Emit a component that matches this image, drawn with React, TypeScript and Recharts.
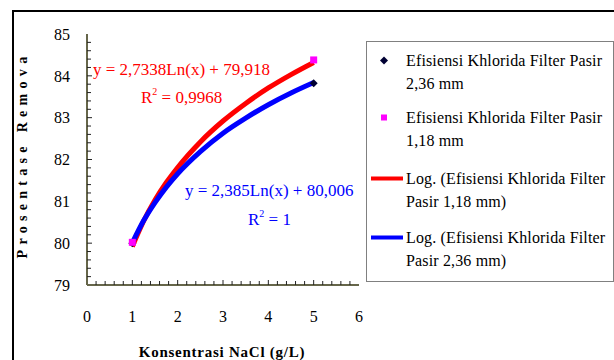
import React from 'react';
import { ComposedChart, Line, Scatter, XAxis, YAxis, Customized } from 'recharts';

const xTicks = [0, 0.2, 0.4, 0.6, 0.8, 1, 1.2, 1.4, 1.6, 1.8, 2, 2.2, 2.4, 2.6, 2.8, 3, 3.2, 3.4, 3.6, 3.8, 4, 4.2, 4.4, 4.6, 4.8, 5, 5.2, 5.4, 5.6, 5.8, 6];
const yTicks = [79, 79.2, 79.4, 79.6, 79.8, 80, 80.2, 80.4, 80.6, 80.8, 81, 81.2, 81.4, 81.6, 81.8, 82, 82.2, 82.4, 82.6, 82.8, 83, 83.2, 83.4, 83.6, 83.8, 84, 84.2, 84.4, 84.6, 84.8, 85];

// measured points
const pasir236 = [
  { x: 1, y: 80.0 },
  { x: 5, y: 83.82 },
];
const pasir118 = [
  { x: 1, y: 80.02 },
  { x: 5, y: 84.38 },
];

// trend curves
const trendX = [1, 1.25, 1.5, 1.75, 2, 2.5, 3, 3.5, 4, 4.5, 5];
const trend118Y = [79.92, 80.53, 81.03, 81.45, 81.81, 82.42, 82.92, 83.34, 83.71, 84.03, 84.32];
const trend236Y = [80.01, 80.54, 80.97, 81.34, 81.66, 82.19, 82.63, 82.99, 83.31, 83.59, 83.84];

const trend118 = trendX.map((x, i) => ({ x, y: trend118Y[i] }));
const trend236 = trendX.map((x, i) => ({ x, y: trend236Y[i] }));

const legendEntries = [
  { kind: 'diamond', color: '#000033', lines: ['Efisiensi Khlorida Filter Pasir', '2,36 mm'] },
  { kind: 'square', color: '#ff00ff', lines: ['Efisiensi Khlorida Filter Pasir', '1,18 mm'] },
  { kind: 'line', color: '#ff0000', lines: ['Log. (Efisiensi Khlorida Filter', 'Pasir 1,18 mm)'] },
  { kind: 'line', color: '#0000ff', lines: ['Log. (Efisiensi Khlorida Filter', 'Pasir 2,36 mm)'] },
];

const eqRed = 'y = 2,7338Ln(x) + 79,918';
const r2Red = '0,9968';
const eqBlue = 'y = 2,385Ln(x) + 80,006';
const r2Blue = '1';

const FONT = '"Liberation Serif", "Times New Roman", serif';
const OLIVE = '#66664a';
const TICK_SIZE = 6;
const X_TICK_MARGIN = 20;
const Y_TICK_MARGIN = 11;

const isInt = (v: number) => Math.abs(v - Math.round(v)) < 1e-6;

const XTick = (props: any) => {
  const { x, y, payload } = props;
  const v = payload.value;
  const axisY = y - TICK_SIZE - X_TICK_MARGIN;
  const len = isInt(v) ? 5 : 4;
  const edge = v <= 0 || v >= 6;
  return (
    <g>
      {!edge && <line x1={x} x2={x} y1={axisY} y2={axisY - len} stroke="#222" strokeWidth={1} />}
      {isInt(v) && (
        <text x={x} y={y} dy="0.71em" textAnchor="middle" fontSize={16} fontFamily={FONT} fill="#000">
          {Math.round(v)}
        </text>
      )}
    </g>
  );
};

const YTick = (props: any) => {
  const { x, y, payload } = props;
  const v = payload.value;
  const axisX = x + TICK_SIZE + Y_TICK_MARGIN;
  const len = isInt(v) ? 5 : 4;
  const edge = v <= 79 || v >= 85;
  return (
    <g>
      {!edge && <line x1={axisX} x2={axisX + len} y1={y} y2={y} stroke="#222" strokeWidth={1} />}
      {isInt(v) && (
        <text x={x} y={y} dy="0.355em" textAnchor="end" fontSize={16} fontFamily={FONT} fill="#000">
          {Math.round(v)}
        </text>
      )}
    </g>
  );
};

const Diamond = (props: any) => {
  const { cx, cy } = props;
  if (cx == null || cy == null) return null;
  const s = 4;
  return <path d={`M${cx},${cy - s} L${cx + s},${cy} L${cx},${cy + s} L${cx - s},${cy} Z`} fill="#000033" />;
};
const Square = (props: any) => {
  const { cx, cy } = props;
  if (cx == null || cy == null) return null;
  return <rect x={cx - 3.5} y={cy - 3.5} width={7} height={7} fill="#ff00ff" />;
};

const Annotations = () => (
  <g fontFamily={FONT}>
    <text x={93} y={69} dominantBaseline="central" fontSize={17} fill="#ff0000">{eqRed}</text>
    <text x={141} y={97} dominantBaseline="central" fontSize={17} fill="#ff0000">
      R<tspan dy={-6} fontSize={10}>2</tspan><tspan dy={6}>{` = ${r2Red}`}</tspan>
    </text>
    <text x={185} y={190} dominantBaseline="central" fontSize={17} fill="#0000ff">{eqBlue}</text>
    <text x={248} y={219} dominantBaseline="central" fontSize={17} fill="#0000ff">
      R<tspan dy={-6} fontSize={10}>2</tspan><tspan dy={6}>{` = ${r2Blue}`}</tspan>
    </text>
    <text
      x={22}
      y={155}
      transform="rotate(-90 22 155)"
      textAnchor="middle"
      dominantBaseline="central"
      fontSize={14}
      fontWeight="bold"
      letterSpacing={5.3}
      fill="#000"
    >
      Prosentase Remova
    </text>
    <text
      x={222}
      y={352}
      textAnchor="middle"
      dominantBaseline="central"
      fontSize={15}
      fontWeight="bold"
      letterSpacing={0.75}
      fill="#000"
    >
      Konsentrasi NaCl (g/L)
    </text>
  </g>
);

const entryTops = [7, 64, 125, 184];

const LegendBox = () => (
  <div
    style={{
      position: 'absolute',
      left: 366,
      top: 41,
      width: 246,
      height: 239,
      border: '1px solid #808080',
      background: '#fff',
      fontFamily: FONT,
      fontSize: 16,
      letterSpacing: 0.15,
      color: '#000',
      overflow: 'hidden',
    }}
  >
    {legendEntries.map((e, i) => (
      <div key={i} style={{ position: 'absolute', left: 0, top: entryTops[i], width: 246 }}>
        <div style={{ position: 'absolute', left: 0, top: 0, width: 38, height: 23 }}>
          {e.kind === 'diamond' && (
            <svg width={38} height={23} style={{ display: 'block' }}>
              <path d="M17,7.5 L21,11.5 L17,15.5 L13,11.5 Z" fill={e.color} />
            </svg>
          )}
          {e.kind === 'square' && (
            <svg width={38} height={23} style={{ display: 'block' }}>
              <rect x={14} y={8.5} width={6} height={6} fill={e.color} />
            </svg>
          )}
          {e.kind === 'line' && (
            <svg width={38} height={23} style={{ display: 'block' }}>
              <rect x={4} y={9.5} width={32} height={4} fill={e.color} />
            </svg>
          )}
        </div>
        <div style={{ position: 'absolute', left: 39, top: 0, whiteSpace: 'nowrap', lineHeight: '23px' }}>
          {e.lines.map((l, j) => (
            <div key={j}>{l}</div>
          ))}
        </div>
      </div>
    ))}
  </div>
);

export default function App() {
  return (
    <div style={{ position: 'absolute', left: 0, top: 0, width: 614, height: 360, background: '#fff', overflow: 'hidden' }}>
      <div
        style={{
          position: 'absolute',
          left: 12,
          top: 10,
          width: 640,
          height: 400,
          borderLeft: '2px solid #000',
          borderTop: '2px solid #000',
        }}
      />
      <ComposedChart
        width={614}
        height={360}
        margin={{ top: 34, right: 255, bottom: 45, left: 0 }}
        style={{ position: 'absolute', left: 0, top: 0 }}
      >
        <XAxis
          xAxisId="b"
          dataKey="x"
          type="number"
          domain={[0, 6]}
          ticks={xTicks}
          interval={0}
          height={30}
          axisLine={{ stroke: OLIVE, strokeWidth: 2 }}
          tickLine={false}
          tickSize={TICK_SIZE}
          tickMargin={X_TICK_MARGIN}
          tick={<XTick />}
          allowDataOverflow
        />
        <XAxis
          xAxisId="t"
          orientation="top"
          dataKey="x"
          type="number"
          domain={[0, 6]}
          height={0}
          axisLine={{ stroke: OLIVE, strokeWidth: 2 }}
          tickLine={false}
          tick={false}
          allowDataOverflow
        />
        <YAxis
          yAxisId="l"
          dataKey="y"
          type="number"
          domain={[79, 85]}
          ticks={yTicks}
          interval={0}
          width={87}
          axisLine={{ stroke: OLIVE, strokeWidth: 2 }}
          tickLine={false}
          tickSize={TICK_SIZE}
          tickMargin={Y_TICK_MARGIN}
          tick={<YTick />}
          allowDataOverflow
        />
        <YAxis
          yAxisId="r"
          orientation="right"
          dataKey="y"
          type="number"
          domain={[79, 85]}
          width={0}
          axisLine={{ stroke: OLIVE, strokeWidth: 2 }}
          tickLine={false}
          tick={false}
          allowDataOverflow
        />
        <Scatter xAxisId="b" yAxisId="l" data={pasir236} shape={<Diamond />} isAnimationActive={false} />
        <Scatter xAxisId="b" yAxisId="l" data={pasir118} shape={<Square />} isAnimationActive={false} />
        <Line
          xAxisId="b"
          yAxisId="l"
          data={trend118}
          dataKey="y"
          type="monotone"
          stroke="#ff0000"
          strokeWidth={5}
          dot={false}
          activeDot={false}
          isAnimationActive={false}
        />
        <Line
          xAxisId="b"
          yAxisId="l"
          data={trend236}
          dataKey="y"
          type="monotone"
          stroke="#0000ff"
          strokeWidth={5}
          dot={false}
          activeDot={false}
          isAnimationActive={false}
        />
        <Customized component={Annotations} />
      </ComposedChart>
      <LegendBox />
    </div>
  );
}
